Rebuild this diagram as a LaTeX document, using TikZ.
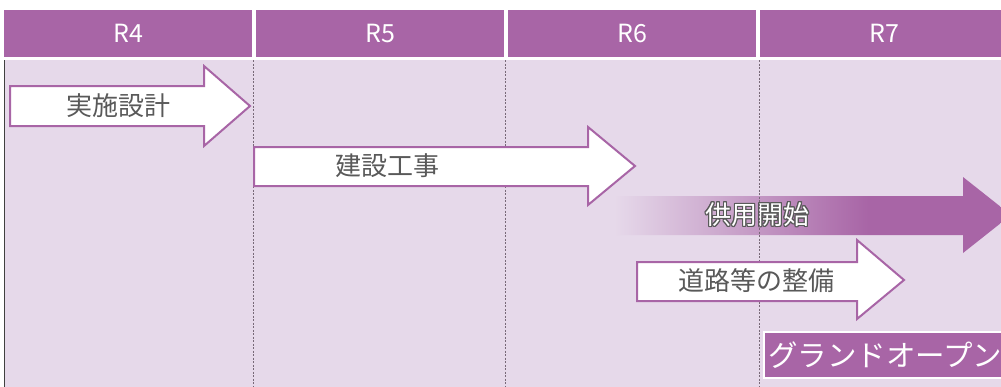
\documentclass[tikz,border=0pt]{standalone}
\usepackage{fontspec}
\setmainfont{Noto Sans CJK JP}
\usepackage{contour}
\contourlength{1pt}
\usetikzlibrary{positioning}

\definecolor{hdrpurple}{RGB}{168,101,166}
\definecolor{bodybg}{RGB}{230,217,234}
\definecolor{labelgray}{RGB}{89,89,89}
\definecolor{gridgray}{RGB}{120,105,120}
\pgfdeclarehorizontalshading{kyoyofade}{100bp}{color(0bp)=(bodybg); color(25bp)=(bodybg);
    color(57bp)=(hdrpurple); color(100bp)=(hdrpurple)}

\begin{document}
\begin{tikzpicture}[
    x=1pt, y=-1pt,
    header/.style={fill=hdrpurple, draw=none},
    hdrtext/.style={text=white, font=\fontsize{25}{30}\selectfont, inner sep=0pt},
    grid/.style={gridgray, line width=0.9pt, dash pattern=on 2pt off 1.5pt},
    taskarrow/.style={fill=white, draw=hdrpurple, line width=2pt, line join=miter},
    tasktext/.style={text=labelgray, font=\fontsize{26}{30}\selectfont, inner sep=0pt},
    milestone/.style={fill=hdrpurple, draw=white, line width=2pt},
]
\useasboundingbox (0,0) rectangle (1001,386);

% === HEADER ===
\fill[header] (4,10) rectangle (252,57);
\fill[header] (256,10) rectangle (504,57);
\fill[header] (508,10) rectangle (756,57);
\fill[header] (760,10) rectangle (1010,57);
\node[hdrtext] (r4) at (128,33.5) {R4};
\node[hdrtext] (r5) at (380,33.5) {R5};
\node[hdrtext] (r6) at (632,33.5) {R6};
\node[hdrtext] (r7) at (884,33.5) {R7};

% === BODY ===
\fill[bodybg] (4,60) rectangle (1010,390);
\draw[gray!50!black, line width=1.5pt] (4.5,60) -- (4.5,390);

% Service start (faded arrow)
\shade[shading=kyoyofade] (614,196) -- (963,196) -- (963,177) -- (1011,215)
    -- (963,253) -- (963,235) -- (614,235) -- cycle;
\node[font=\fontsize{26}{30}\selectfont, inner sep=0pt] (kyoyo) at (757.5,215)
    {\contour{labelgray}{\color{white}供用開始}};

% Year separators
\draw[grid] (253.5,60) -- (253.5,390);
\draw[grid] (505.5,60) -- (505.5,390);
\draw[grid] (759,60) -- (759,390);

% Detailed design
\draw[taskarrow] (10,86) -- (204,86) -- (204,66) -- (250,106)
    -- (204,146) -- (204,126) -- (10,126) -- cycle;
\node[tasktext] (sekkei) at (118.5,106) {実施設計};

% Construction
\draw[taskarrow] (254,147) -- (588,147) -- (588,127) -- (635,166)
    -- (588,205) -- (588,186) -- (254,186) -- cycle;
\node[tasktext] (koji) at (387.5,166) {建設工事};

% Road works
\draw[taskarrow] (637,262) -- (857,262) -- (857,240) -- (904,280)
    -- (857,319) -- (857,301) -- (637,301) -- cycle;
\node[tasktext] (doro) at (756,281) {道路等の整備};

% Grand opening
\draw[milestone] (764,332) rectangle (1012,378);
\node[text=white, font=\fontsize{29.5}{34}\selectfont, inner sep=0pt, anchor=west] (open)
    at (768,355) {グランドオープン};

\end{tikzpicture}
\end{document}
